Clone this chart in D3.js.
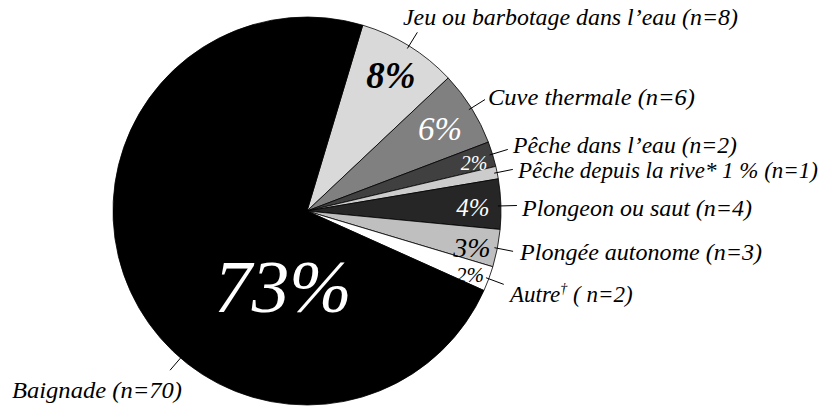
<!DOCTYPE html>
<html>
<head>
<meta charset="utf-8">
<script src="https://cdn.jsdelivr.net/npm/d3@7"></script>
<style>
  body { margin: 0; }
  svg text { font-family: "Liberation Serif", "Times New Roman", Tinos, serif; font-style: italic; }
</style>
</head>
<body>
<svg width="827" height="410"></svg>
<script>
// data, clockwise from the top
const names = ["Jeu ou barbotage dans l\u2019eau", "Cuve thermale", "P\u00eache dans l\u2019eau", "P\u00eache depuis la rive",
               "Plongeon ou saut", "Plong\u00e9e autonome", "Autre", "Baignade"];
const counts = [8, 6, 2, 1, 4, 3, 2, 70];
const fills = ["#d9d9d9", "#808080", "#404040", "#cccccc", "#262626", "#bfbfbf", "#ffffff", "#000000"];

// layout
const cx = 307, cy = 211, R = 194;
const startDeg = 16.7;
// outside label text anchor (start, baseline) and width
const labelXY = [[403, 25], [488, 105], [513, 153], [518, 178], [522, 216], [520, 260], [510, 302], [12, 398]];
const labelW = [335, 207, 224, 300, 230, 242, null, 170];
// leader angle override (deg) when not the slice middle
const leaderDeg = [null, null, null, null, 88.5, null, null, 220.7];
// percent inside slices: [x centre, baseline, size, color, weight]
const pctStyle = [
  [391, 88, 37, "#000", "bold"],
  [440, 140, 33, "#fff", "normal"],
  [474, 170, 20, "#fff", "normal"],
  null,
  [473, 216, 25, "#fff", "normal"],
  [472, 257, 28, "#000", "normal"],
  [470, 282, 21, "#000", "normal"],
  [283, 312, 75, "#fff", "normal"]
];

const total = d3.sum(counts);
const pct = v => Math.round(v / total * 100);

const svg = d3.select("svg");
const g = svg.append("g").attr("transform", `translate(${cx},${cy})`);

const pie = d3.pie().sort(null).value(d => d)
  .startAngle(startDeg * Math.PI / 180)
  .endAngle(startDeg * Math.PI / 180 + 2 * Math.PI);
const arcs = pie(counts);
const arc = d3.arc().innerRadius(0).outerRadius(R);

g.selectAll("path.slice")
  .data(arcs)
  .enter().append("path")
    .attr("class", "slice")
    .attr("d", arc)
    .attr("fill", (d, i) => fills[i])
    .attr("stroke", "#000")
    .attr("stroke-width", 0.8);

// leader lines
arcs.forEach((d, i) => {
  const a = leaderDeg[i] != null ? leaderDeg[i] * Math.PI / 180 : (d.startAngle + d.endAngle) / 2;
  const r0 = R - 3, r1 = R + 16;
  g.append("line")
    .attr("x1", r0 * Math.sin(a)).attr("y1", -r0 * Math.cos(a))
    .attr("x2", r1 * Math.sin(a)).attr("y2", -r1 * Math.cos(a))
    .attr("stroke", "#000").attr("stroke-width", 1);
});

// outside labels
names.forEach((nm, i) => {
  const t = svg.append("text")
    .attr("x", labelXY[i][0]).attr("y", labelXY[i][1])
    .attr("font-size", 23)
    .attr("fill", "#000");
  if (nm === "Autre") {
    t.append("tspan").text(nm);
    t.append("tspan").attr("font-size", 14).attr("dy", -9).text("\u2020");
    t.append("tspan").attr("dy", 9).text(" ( n=" + counts[i] + ")");
  } else if (pctStyle[i] == null) {
    t.text(nm + "* " + pct(counts[i]) + " % (n=" + counts[i] + ")");
  } else {
    t.text(nm + " (n=" + counts[i] + ")");
  }
  if (labelW[i]) t.attr("textLength", labelW[i]).attr("lengthAdjust", "spacingAndGlyphs");
});

// percentages inside the pie
counts.forEach((v, i) => {
  const s = pctStyle[i];
  if (!s) return;
  svg.append("text")
    .attr("x", s[0]).attr("y", s[1])
    .attr("text-anchor", "middle")
    .attr("font-size", s[2])
    .attr("font-weight", s[4])
    .attr("fill", s[3])
    .text(pct(v) + "%");
});
</script>
</body>
</html>
